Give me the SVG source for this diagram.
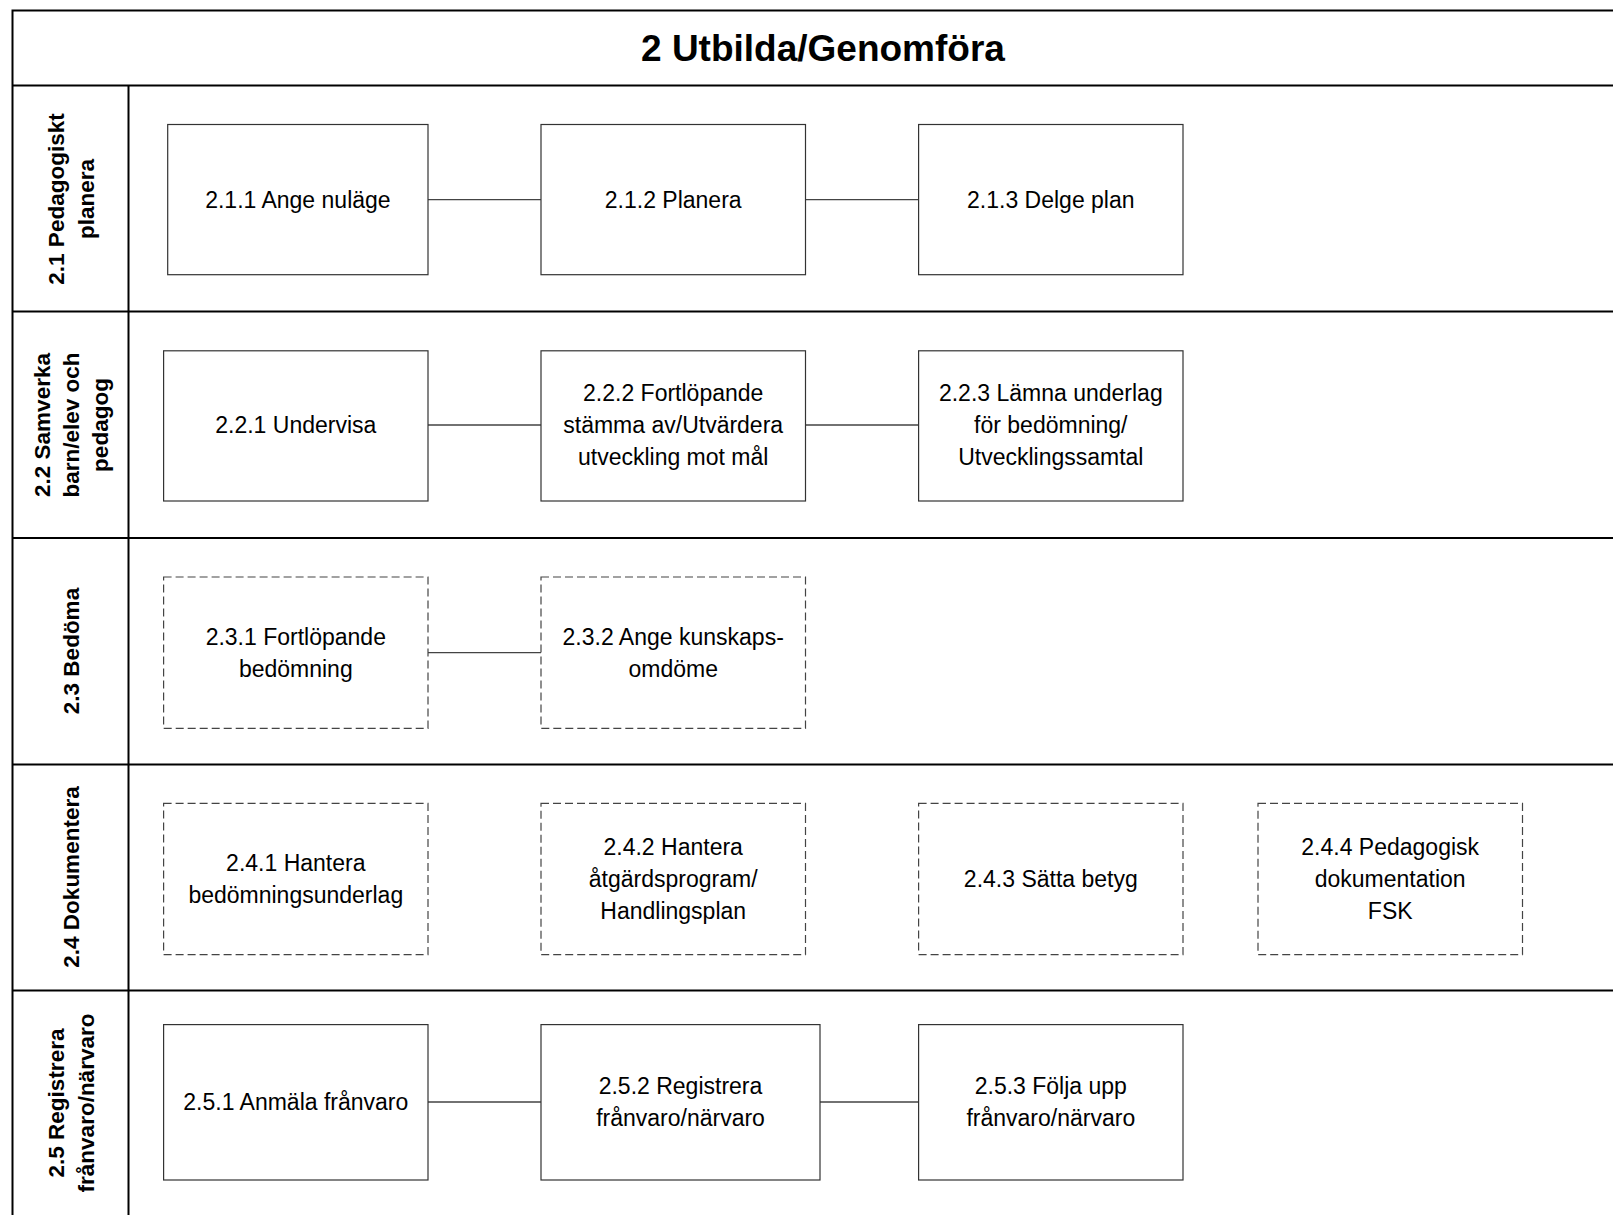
<svg xmlns="http://www.w3.org/2000/svg" width="1613" height="1215" viewBox="0 0 1613 1215">
<style>
.frame{stroke:#000;stroke-width:2;fill:none}
.box{fill:#fff;stroke:#333;stroke-width:1.2}
.dash{stroke-dasharray:8 4;stroke:#444}
.conn{stroke:#444;stroke-width:1.3;fill:none}
.t{font-family:"Liberation Sans",Arial,sans-serif;font-size:23px;fill:#000;text-anchor:middle;dominant-baseline:central}
.lane{font-family:"Liberation Sans",Arial,sans-serif;font-size:22.5px;font-weight:bold;fill:#000;text-anchor:middle;dominant-baseline:central}
.title{font-family:"Liberation Sans",Arial,sans-serif;font-size:37px;font-weight:bold;fill:#000;text-anchor:middle;dominant-baseline:central}
</style>
<rect x="0" y="0" width="1613" height="1215" fill="#fff"/>
<g id="frame">
<path class="frame" d="M12.5 1215 V10.5 H1613 M12.5 85.5 H1613 M128.5 85.5 V1215 M12.5 311.5 H1613 M12.5 538 H1613 M12.5 764.5 H1613 M12.5 990.5 H1613"/>
<text class="title" x="823" y="48">2 Utbilda/Genomföra</text>
</g>
<g id="lanes">
<g id="lane-2-1"><text class="lane" transform="translate(70.5,199) rotate(-90)"><tspan x="0" y="-15">2.1 Pedagogiskt</tspan><tspan x="0" y="15">planera</tspan></text></g>
<g id="lane-2-2"><text class="lane" transform="translate(70.5,425) rotate(-90)"><tspan x="0" y="-29">2.2 Samverka</tspan><tspan x="0" y="0">barn/elev och</tspan><tspan x="0" y="29">pedagog</tspan></text></g>
<g id="lane-2-3"><text class="lane" transform="translate(70.5,651) rotate(-90)"><tspan x="0" y="0">2.3 Bedöma</tspan></text></g>
<g id="lane-2-4"><text class="lane" transform="translate(70.5,877) rotate(-90)"><tspan x="0" y="0">2.4 Dokumentera</tspan></text></g>
<g id="lane-2-5"><text class="lane" transform="translate(70.5,1103) rotate(-90)"><tspan x="0" y="-15">2.5 Registrera</tspan><tspan x="0" y="15">frånvaro/närvaro</tspan></text></g>
</g>
<g id="connectors">
<path class="conn" d="M428 199.6 H541 M805.5 199.6 H918.6"/>
<path class="conn" d="M428 425 H541 M805.5 425 H918.6"/>
<path class="conn" d="M428 652.6 H541"/>
<path class="conn" d="M428 1102 H541 M820 1102 H918.6"/>
</g>
<g id="n211"><rect class="box" x="167.7" y="124.5" width="260.3" height="150.2"/><text class="t" x="297.9" y="199.6">2.1.1 Ange nuläge</text></g>
<g id="n212"><rect class="box" x="541" y="124.5" width="264.5" height="150.2"/><text class="t" x="673.2" y="199.6">2.1.2 Planera</text></g>
<g id="n213"><rect class="box" x="918.6" y="124.5" width="264.4" height="150.2"/><text class="t" x="1050.8" y="199.6">2.1.3 Delge plan</text></g>
<g id="n221"><rect class="box" x="163.6" y="350.8" width="264.4" height="150.2"/><text class="t" x="295.8" y="425">2.2.1 Undervisa</text></g>
<g id="n222"><rect class="box" x="541" y="350.8" width="264.5" height="150.2"/><text class="t" x="673.2" y="425"><tspan x="673.2" y="393">2.2.2 Fortlöpande</tspan><tspan x="673.2" y="425">stämma av/Utvärdera</tspan><tspan x="673.2" y="457">utveckling mot mål</tspan></text></g>
<g id="n223"><rect class="box" x="918.6" y="350.8" width="264.4" height="150.2"/><text class="t" x="1050.8" y="425"><tspan x="1050.8" y="393">2.2.3 Lämna underlag</tspan><tspan x="1050.8" y="425">för bedömning/</tspan><tspan x="1050.8" y="457">Utvecklingssamtal</tspan></text></g>
<g id="n231"><rect class="box dash" x="163.6" y="577" width="264.4" height="151.3"/><text class="t" x="295.8" y="652"><tspan x="295.8" y="636.7">2.3.1 Fortlöpande</tspan><tspan x="295.8" y="668.7">bedömning</tspan></text></g>
<g id="n232"><rect class="box dash" x="541" y="577" width="264.5" height="151.3"/><text class="t" x="673.2" y="652"><tspan x="673.2" y="636.7">2.3.2 Ange kunskaps-</tspan><tspan x="673.2" y="668.7">omdöme</tspan></text></g>
<g id="n241"><rect class="box dash" x="163.6" y="803.4" width="264.4" height="151.2"/><text class="t" x="295.8" y="879"><tspan x="295.8" y="862.5">2.4.1 Hantera</tspan><tspan x="295.8" y="894.5">bedömningsunderlag</tspan></text></g>
<g id="n242"><rect class="box dash" x="541" y="803.4" width="264.5" height="151.2"/><text class="t" x="673.2" y="879"><tspan x="673.2" y="846.5">2.4.2  Hantera</tspan><tspan x="673.2" y="878.5">åtgärdsprogram/</tspan><tspan x="673.2" y="910.5">Handlingsplan</tspan></text></g>
<g id="n243"><rect class="box dash" x="918.6" y="803.4" width="264.4" height="151.2"/><text class="t" x="1050.8" y="879">2.4.3 Sätta betyg</text></g>
<g id="n244"><rect class="box dash" x="1258" y="803.4" width="264.5" height="151.2"/><text class="t" x="1390.2" y="879"><tspan x="1390.2" y="846.5">2.4.4 Pedagogisk</tspan><tspan x="1390.2" y="878.5">dokumentation</tspan><tspan x="1390.2" y="910.5">FSK</tspan></text></g>
<g id="n251"><rect class="box" x="163.6" y="1024.6" width="264.4" height="155.4"/><text class="t" x="295.8" y="1102">2.5.1 Anmäla frånvaro</text></g>
<g id="n252"><rect class="box" x="541" y="1024.6" width="279" height="155.4"/><text class="t" x="680.5" y="1102"><tspan x="680.5" y="1086">2.5.2 Registrera</tspan><tspan x="680.5" y="1118">frånvaro/närvaro</tspan></text></g>
<g id="n253"><rect class="box" x="918.6" y="1024.6" width="264.4" height="155.4"/><text class="t" x="1050.8" y="1102"><tspan x="1050.8" y="1086">2.5.3 Följa upp</tspan><tspan x="1050.8" y="1118">frånvaro/närvaro</tspan></text></g>
</svg>
